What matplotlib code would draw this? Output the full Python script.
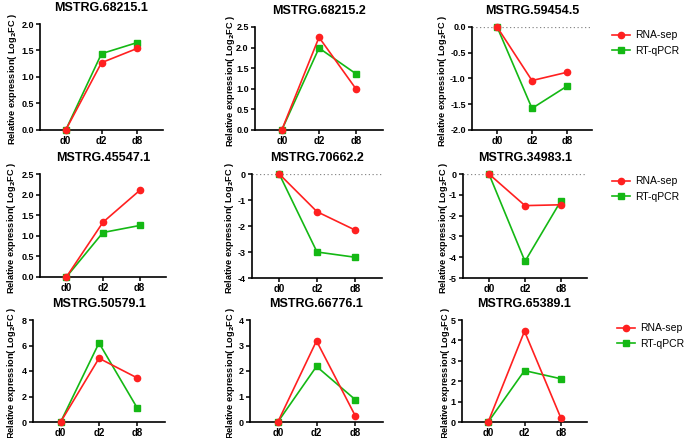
import matplotlib
matplotlib.use("Agg")
import matplotlib.pyplot as plt

plt.rcParams["font.family"] = ["Liberation Sans", "DejaVu Sans"]

days = ["d0", "d2", "d8"]

genes = [
    "MSTRG.68215.1", "MSTRG.68215.2", "MSTRG.59454.5",
    "MSTRG.45547.1", "MSTRG.70662.2", "MSTRG.34983.1",
    "MSTRG.50579.1", "MSTRG.66776.1", "MSTRG.65389.1",
]

rna_seq = [
    [0, 1.27, 1.54],
    [0, 2.25, 0.99],
    [0, -1.04, -0.88],
    [0, 1.33, 2.10],
    [0, -1.45, -2.15],
    [0, -1.52, -1.48],
    [0, 5.0, 3.45],
    [0, 3.18, 0.25],
    [0, 4.45, 0.20],
]

rt_qpcr = [
    [0, 1.44, 1.65],
    [0, 1.99, 1.36],
    [0, -1.58, -1.15],
    [0, 1.08, 1.25],
    [0, -3.0, -3.2],
    [0, -4.2, -1.28],
    [0, 6.2, 1.08],
    [0, 2.18, 0.88],
    [0, 2.52, 2.12],
]

y_limits = [
    (0, 2.0), (0, 2.5), (-2.0, 0),
    (0, 2.5), (-4, 0), (-5, 0),
    (0, 8), (0, 4), (0, 5),
]
y_steps = [0.5, 0.5, 0.5, 0.5, 1, 1, 2, 1, 1]
y_fmt = ["%.1f", "%.1f", "%.1f", "%.1f", "%d", "%d", "%d", "%d", "%d"]

# pixel boxes: left spine, right end, top, bottom ; label x
W, H = 685, 438
boxes = [
    (40, 163, 24, 130, 6), (255, 383, 27, 130, 224), (472, 592, 27, 130, 436),
    (40, 166, 174, 277, 5), (252, 382, 174, 278, 223), (463, 587, 174, 278, 437),
    (33, 165, 320, 422, 5), (250, 383, 320, 422, 224), (462, 587, 320, 422, 439),
]
legend_pos = {2: (603, 21), 5: (603, 167), 8: (608, 314)}

RED = "#ff2020"
GREEN = "#14b814"

fig = plt.figure(figsize=(W / 100, H / 100), dpi=100)

for i, gene in enumerate(genes):
    x0, x1, y0, y1, lx = boxes[i]
    ax = fig.add_axes([x0 / W, 1 - y1 / H, (x1 - x0) / W, (y1 - y0) / H])
    xs = range(len(days))
    ax.plot(xs, rt_qpcr[i], color=GREEN, marker="s", markersize=4.5, lw=1.2,
            label="RT-qPCR", clip_on=False, zorder=3)
    ax.plot(xs, rna_seq[i], color=RED, marker="o", markersize=4.5, lw=1.2,
            label="RNA-sep", clip_on=False, zorder=4)
    lo, hi = y_limits[i]
    ax.set_ylim(lo, hi)
    ax.set_xlim(-0.72, 2.72)
    step = y_steps[i]
    n = int(round((hi - lo) / step))
    ticks = [lo + k * step for k in range(n + 1)]
    ax.set_yticks(ticks)
    ax.set_yticklabels([y_fmt[i] % t for t in ticks])
    ax.set_xticks(list(xs))
    ax.set_xticklabels(days)
    if hi == 0:
        ax.axhline(0, color="#888888", lw=0.9, ls=(0, (1, 2)), zorder=1)
    for s in ["top", "right"]:
        ax.spines[s].set_visible(False)
    for s in ["left", "bottom"]:
        ax.spines[s].set_linewidth(1.2)
    ax.tick_params(axis="y", direction="out", length=3, width=1.1,
                   labelsize=6.5, pad=1.5)
    ax.tick_params(axis="x", direction="out", length=3, width=1.1,
                   labelsize=7, pad=1.5)
    for t in ax.get_xticklabels() + ax.get_yticklabels():
        t.set_fontweight("bold")
    ax.set_title(gene, fontsize=9, fontweight="bold", pad=9.5)
    fig.text(lx / W, 1 - ((y0 + y1) / 2 + 2) / H,
             "Relative expression( Log$_\\mathbf{2}$FC )", rotation=90,
             ha="left", va="center", fontsize=6.6, fontweight="bold")
    if i in legend_pos:
        px, py = legend_pos[i]
        handles, labels = ax.get_legend_handles_labels()
        ax.legend(handles[::-1], labels[::-1], loc="upper left",
                  bbox_to_anchor=(px / W, 1 - py / H),
                  bbox_transform=fig.transFigure, frameon=False,
                  fontsize=7.5, handlelength=1.7, handletextpad=0.5,
                  labelspacing=0.5)

fig.savefig("out.png", dpi=100)
